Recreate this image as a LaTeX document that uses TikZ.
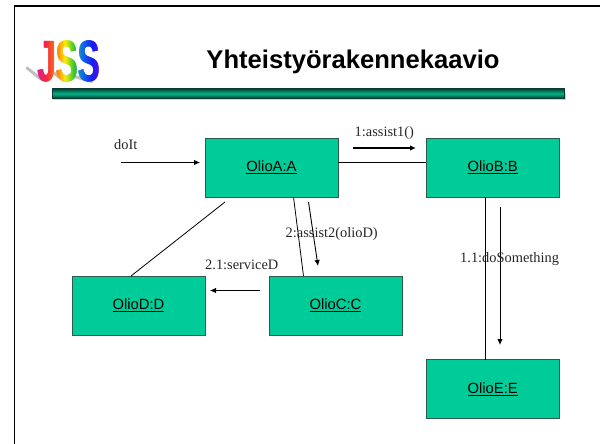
\documentclass[tikz,border=0pt]{standalone}
\usepackage{fontspec}
\setmainfont{Liberation Serif}
\newfontfamily\arialf{Liberation Sans}
\usetikzlibrary{arrows.meta,fadings}
\definecolor{boxgreen}{HTML}{00CC99}
\definecolor{boxedge}{HTML}{2F5A4E}
\definecolor{bardark}{HTML}{0A3A30}
\definecolor{barmid}{HTML}{00B488}
\pgfdeclarehorizontalshading{jssrainbow}{100bp}{
 rgb(0bp)=(0.85,0.1,0.75);
 rgb(25bp)=(0.85,0.1,0.7);
 rgb(33bp)=(0.95,0.15,0.25);
 rgb(41bp)=(1,0.5,0.05);
 rgb(47bp)=(1,0.92,0.05);
 rgb(53bp)=(0.25,0.8,0.15);
 rgb(59bp)=(0.05,0.45,0.9);
 rgb(67bp)=(0.1,0.1,0.95);
 rgb(75bp)=(0.5,0.05,0.85);
 rgb(100bp)=(0.5,0.05,0.85)}
\begin{tikzfadingfrompicture}[name=jssfade]
\node[text=transparent!0,inner sep=0pt,xscale=0.6] at (-0.4pt,0) {\arialf\fontsize{40}{40}\bfseries\selectfont JSS};
\node[text=transparent!0,inner sep=0pt,xscale=0.6] at (0,0) {\arialf\fontsize{40}{40}\bfseries\selectfont JSS};
\node[text=transparent!0,inner sep=0pt,xscale=0.6] at (0.4pt,0) {\arialf\fontsize{40}{40}\bfseries\selectfont JSS};
\end{tikzfadingfrompicture}
\tikzset{
 x=1pt,y=-1pt,
 objbox/.style={draw=boxedge,line width=1pt,fill=boxgreen,minimum width=133pt,minimum height=59pt,inner sep=0pt,font=\arialf\fontsize{14.8}{17}\selectfont,text=black},
 link/.style={draw=black,line width=0.8pt},
 msg/.style={draw=black,line width=0.9pt,-{Latex[length=6pt,width=5.5pt]}},
 lbl/.style={inner sep=0pt,font=\fontsize{14.4}{16}\selectfont,text=black!85},
}
\begin{document}
\begin{tikzpicture}
\useasboundingbox (0,0) rectangle (600,444);
\fill[white] (0,0) rectangle (600,444);
\coordinate (fbl) at (14.5,444); \coordinate (ftl) at (14.5,6); \coordinate (ftr) at (600,6);
\draw[line width=1.8pt,black] (fbl) -- (ftl) -- (ftr);
% logo
\draw[line width=3pt,black!25,line cap=round] (27,68) -- (41,79);
\draw[line width=3pt,black!25,line cap=round] (51,71) -- (65,81);
\draw[line width=3pt,black!25,line cap=round] (69,75) -- (92,81.5);
\shade[shading=jssrainbow,shading angle=0,path fading=jssfade] (34.7,24.6) rectangle (103.3,97.4);
% title
\node[inner sep=0pt,font=\arialf\bfseries\fontsize{25.6}{30}\selectfont] (title) at (353,62) {Yhteistyörakennekaavio};
% bar
\fill[black!18] (53,93) rectangle (566,100);
\shade[top color=bardark,bottom color=bardark,middle color=barmid] (52,88.5) rectangle (564.5,98.5);
\draw[bardark,line width=1pt] (52,88.5) rectangle (564.5,98.5);
% boxes
\node[objbox] (A) at (271.5,167.5) {\underline{OlioA:A}};
\node[objbox] (B) at (492.7,167.5) {\underline{OlioB:B}};
\node[objbox] (C) at (335.5,305.5) {\underline{OlioC:C}};
\node[objbox] (D) at (138.5,305.5) {\underline{OlioD:D}};
\node[objbox] (E) at (492.7,389) {\underline{OlioE:E}};
% links
\coordinate (ab) at (338,162.5); \coordinate (ba) at (426,162.5);
\coordinate (ac) at (293.5,197); \coordinate (ca) at (303.5,276);
\coordinate (ad) at (225,202); \coordinate (da) at (131,276);
\coordinate (be) at (485.5,197); \coordinate (eb) at (485.5,359.5);
\draw[link] (ab) -- (ba);
\draw[link] (ac) -- (ca);
\draw[link] (ad) -- (da);
\draw[link] (be) -- (eb);
% messages
\coordinate (m0a) at (121,162.5); \coordinate (m0b) at (200,162.5);
\coordinate (m1a) at (352.5,148); \coordinate (m1b) at (416,148);
\coordinate (m2a) at (308.5,202); \coordinate (m2b) at (318,266);
\coordinate (m3a) at (260,290.5); \coordinate (m3b) at (210,290.5);
\coordinate (m4a) at (500,207); \coordinate (m4b) at (500,345);
\draw[msg] (m0a) -- (m0b);
\draw[msg,line width=1.3pt] (m1a) -- (m1b);
\draw[msg] (m2a) -- (m2b);
\draw[msg] (m3a) -- (m3b);
\draw[msg] (m4a) -- (m4b);
% labels
\node[lbl,anchor=base west] (l0) at (114,149) {doIt};
\node[lbl,anchor=base west] (l1) at (354.5,136) {1:assist1()};
\node[lbl,anchor=base west] (l2) at (285.5,237) {2:assist2(olioD)};
\node[lbl,anchor=base west] (l3) at (205,269.5) {2.1:serviceD};
\node[lbl,anchor=base west] (l4) at (460,262) {1.1:doSomething};
\end{tikzpicture}
\end{document}
